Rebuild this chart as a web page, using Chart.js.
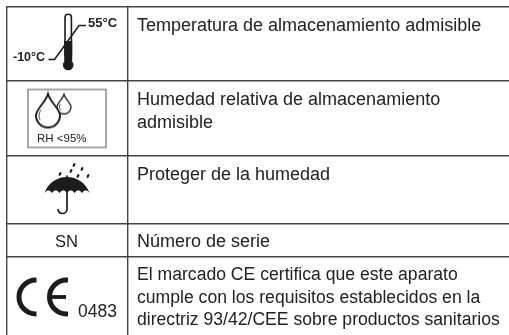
<!DOCTYPE html>
<html>
<head>
<meta charset="utf-8">
<style>
html, body { margin: 0; padding: 0; background: #fff; overflow: hidden; }
#wrap { position: relative; width: 509px; height: 335px; }
</style>
<script src="https://cdn.jsdelivr.net/npm/chart.js@4"></script>
</head>
<body>
<div id="wrap"><canvas id="symbolTable" width="509" height="335"></canvas></div>
<script>
// table rules, in picture units
var columnRules = [6.5, 127.5];
var rowRules = [6.5, 81, 155.5, 224, 257];

// text of the right-hand column, one entry per line, with its baseline
var descLines = [
    "Temperatura de almacenamiento admisible",
    "Humedad relativa de almacenamiento",
    "admisible",
    "Proteger de la humedad",
    "Número de serie",
    "El marcado CE certifica que este aparato",
    "cumple con los requisitos establecidos en la",
    "directriz 93/42/CEE sobre productos sanitarios"
];
var descBaselines = [30.5, 105, 128, 180, 247, 280, 302.5, 325];
var descX = 137;

// symbols of the left-hand column
var symbolNames = ["thermo", "drops", "umbrella", "ce"];
var symbolX = [65, 67, 67, 42];
var symbolY = [42, 118.5, 189, 297];

// small texts that sit in the symbol column
var labelTexts = ["55°C", "-10°C", "RH <95%", "SN", "0483"];
var labelX = [88, 13, 37, 66.5, 78];
var labelY = [27, 61, 142, 247, 316.5];
var labelFonts = ["bold 13px", "bold 12.5px", "11.5px", "16.5px", "17.5px"];
var labelAlign = ["left", "left", "left", "center", "left"];

var ink = "#1c1c1c";

function makeIcon(w, h, draw) {
    var c = document.createElement("canvas");
    c.width = w;
    c.height = h;
    var g = c.getContext("2d");
    g.strokeStyle = ink;
    g.fillStyle = ink;
    g.lineCap = "round";
    draw(g);
    return c;
}

// every icon is drawn around its own centre, picture coords minus symbol centre
function thermoIcon() {
    return makeIcon(60, 70, function (g) {
        g.translate(30 - 65, 35 - 42);
        // tube
        g.lineWidth = 1.6;
        g.beginPath();
        g.moveTo(65, 55);
        g.lineTo(65, 17.5);
        g.arc(68.2, 17.5, 3.2, Math.PI, 0);
        g.lineTo(71.4, 55);
        g.stroke();
        // mercury
        g.beginPath();
        g.rect(64.2, 41, 8, 20);
        g.fill();
        g.beginPath();
        g.arc(68.2, 65, 5.3, 0, Math.PI * 2);
        g.fill();
        // range line
        g.lineWidth = 1.6;
        g.lineCap = "butt";
        g.beginPath();
        g.moveTo(48.5, 59.5);
        g.lineTo(54.5, 59.5);
        g.lineTo(79, 25.5);
        g.lineTo(86, 25.5);
        g.stroke();
    });
}

function dropPath(g, cx, top, cy, r) {
    g.beginPath();
    g.moveTo(cx, top);
    g.bezierCurveTo(cx + r * 0.2, top + (cy - top) * 0.4, cx + r, cy - r * 0.55, cx + r, cy);
    g.arc(cx, cy, r, 0, Math.PI);
    g.bezierCurveTo(cx - r, cy - r * 0.55, cx - r * 0.2, top + (cy - top) * 0.4, cx, top);
    g.closePath();
}

function dropsIcon() {
    return makeIcon(84, 64, function (g) {
        g.translate(42 - 67, 32 - 118.5);
        // frame
        g.strokeStyle = "#555";
        g.lineWidth = 1;
        g.strokeRect(28, 89.5, 78, 58);
        g.strokeStyle = ink;
        // drops
        g.lineWidth = 1.3;
        dropPath(g, 64, 94.5, 107, 7);
        g.stroke();
        g.fillStyle = "#fff";
        g.lineWidth = 1.9;
        dropPath(g, 48, 94, 115.5, 12);
        g.fill();
        g.stroke();
        // glints
        g.lineWidth = 0.8;
        g.beginPath();
        g.arc(48, 115.5, 9, Math.PI * 0.85, Math.PI * 1.2);
        g.stroke();
        g.beginPath();
        g.arc(64, 107, 4.8, Math.PI * 0.8, Math.PI * 1.2);
        g.stroke();
    });
}

function umbrellaIcon() {
    return makeIcon(60, 64, function (g) {
        g.translate(30 - 67, 32 - 189);
        // canopy with scalloped edge
        g.beginPath();
        g.moveTo(44.5, 193);
        g.bezierCurveTo(48, 183, 57, 177, 67, 177);
        g.bezierCurveTo(77, 177, 86, 183, 89.5, 193);
        var edge = [82, 74.5, 67, 59.5, 52, 44.5];
        var x0 = 89.5;
        for (var i = 0; i < edge.length; i++) {
            g.quadraticCurveTo((x0 + edge[i]) / 2, 187.5, edge[i], 193);
            x0 = edge[i];
        }
        g.closePath();
        g.fill();
        // handle
        g.lineWidth = 1.7;
        g.beginPath();
        g.moveTo(67, 176);
        g.lineTo(67, 209);
        g.arc(62.5, 209, 4.5, 0, Math.PI * 0.95);
        g.stroke();
        // rain
        var rain = [[74, 165], [82, 169], [71, 171], [60, 174], [78, 176], [88, 176]];
        rain.forEach(function (p) {
            g.beginPath();
            g.ellipse(p[0], p[1], 1.2, 2, 0.5, 0, Math.PI * 2);
            g.fill();
        });
    });
}

function ceIcon() {
    return makeIcon(70, 50, function (g) {
        g.translate(35 - 42, 25 - 297);
        g.lineWidth = 5;
        g.lineCap = "butt";
        // C
        g.beginPath();
        g.moveTo(36.5, 280);
        g.lineTo(36, 280);
        g.arc(36, 297, 17, -Math.PI / 2, Math.PI / 2, true);
        g.lineTo(36.5, 314);
        g.stroke();
        // E
        g.beginPath();
        g.moveTo(68, 280);
        g.lineTo(66.5, 280);
        g.arc(66.5, 297, 17, -Math.PI / 2, Math.PI / 2, true);
        g.lineTo(68, 314);
        g.stroke();
        g.lineWidth = 3.8;
        g.beginPath();
        g.moveTo(50, 297);
        g.lineTo(66, 297);
        g.stroke();
    });
}

var iconMakers = { thermo: thermoIcon, drops: dropsIcon, umbrella: umbrellaIcon, ce: ceIcon };
var iconList = symbolNames.map(function (n) { return iconMakers[n](); });

// text goes on top of the library's points, placed through its scales
var tableText = {
    id: "tableText",
    afterDatasetsDraw: function (chart) {
        var ctx = chart.ctx;
        var xs = chart.scales.x;
        var ys = chart.scales.y;
        ctx.save();
        ctx.fillStyle = "#222";
        ctx.textBaseline = "alphabetic";
        ctx.textAlign = "left";
        for (var i = 0; i < descLines.length; i++) {
            // the CE paragraph is set a bit tighter in the original
            ctx.font = (i >= 5 ? "17.6px" : "18px") + ' "Liberation Sans"';
            ctx.fillText(descLines[i], xs.getPixelForValue(descX), ys.getPixelForValue(descBaselines[i]));
        }
        for (var j = 0; j < labelTexts.length; j++) {
            ctx.font = labelFonts[j] + ' "Liberation Sans"';
            ctx.textAlign = labelAlign[j];
            ctx.fillText(labelTexts[j], xs.getPixelForValue(labelX[j]), ys.getPixelForValue(labelY[j]));
        }
        ctx.restore();
    }
};

function ruleAxis(rules, extra) {
    return Object.assign({
        type: "linear",
        display: true,
        afterBuildTicks: function (axis) {
            axis.ticks = rules.map(function (v) { return { value: v }; });
        },
        grid: { color: "#444", lineWidth: 1.4, drawTicks: false, drawOnChartArea: true },
        border: { display: false },
        ticks: { display: false }
    }, extra);
}

new Chart(document.getElementById("symbolTable"), {
    type: "scatter",
    data: {
        datasets: [{
            data: symbolX.map(function (x, i) { return { x: x, y: symbolY[i] }; }),
            pointStyle: iconList,
            pointRadius: 10,
            pointHoverRadius: 10
        }]
    },
    options: {
        responsive: false,
        animation: false,
        layout: { autoPadding: false, padding: { left: 6, top: 6, right: 0, bottom: 0 } },
        plugins: { legend: { display: false }, tooltip: { enabled: false }, title: { display: false } },
        scales: {
            x: ruleAxis(columnRules, { min: 6, max: 509 }),
            y: ruleAxis(rowRules, { min: 6, max: 335, reverse: true })
        }
    },
    plugins: [tableText]
});
</script>
</body>
</html>
